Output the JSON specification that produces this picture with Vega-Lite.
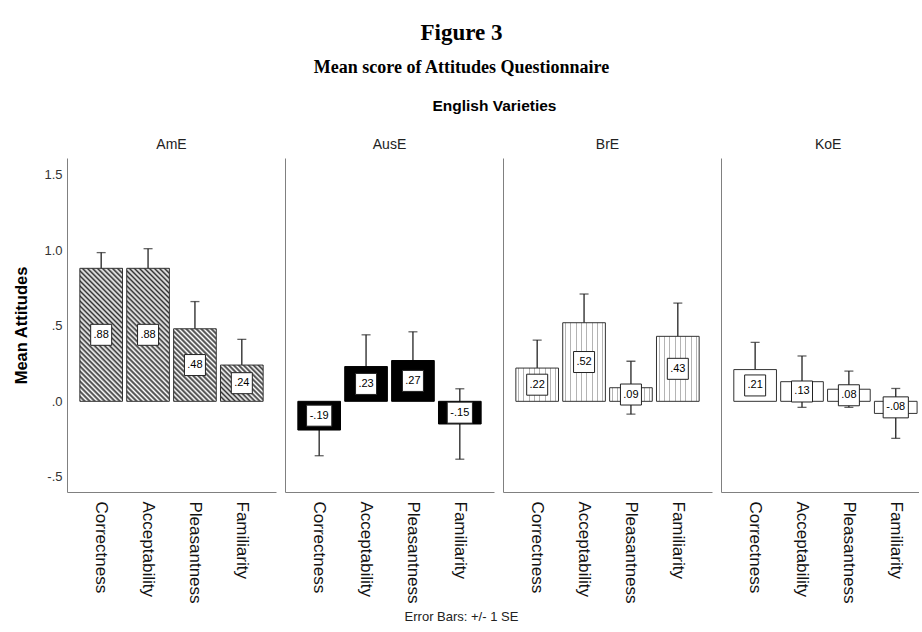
{
  "$schema": "https://vega.github.io/schema/vega-lite/v6.json",
  "padding": {"left": 13, "top": 21, "right": 0, "bottom": 0},
  "config": {"view": {"stroke": null}, "font": "Liberation Sans"},
  "data": {"values": [
    {"variety": "AmE", "measure": "Correctness", "mean": 0.88, "se": 0.104, "label": ".88"},
    {"variety": "AmE", "measure": "Acceptability", "mean": 0.88, "se": 0.13, "label": ".88"},
    {"variety": "AmE", "measure": "Pleasantness", "mean": 0.48, "se": 0.18, "label": ".48"},
    {"variety": "AmE", "measure": "Familiarity", "mean": 0.24, "se": 0.17, "label": ".24"},
    {"variety": "AusE", "measure": "Correctness", "mean": -0.19, "se": 0.17, "label": "-.19"},
    {"variety": "AusE", "measure": "Acceptability", "mean": 0.23, "se": 0.21, "label": ".23"},
    {"variety": "AusE", "measure": "Pleasantness", "mean": 0.27, "se": 0.19, "label": ".27"},
    {"variety": "AusE", "measure": "Familiarity", "mean": -0.15, "se": 0.233, "label": "-.15"},
    {"variety": "BrE", "measure": "Correctness", "mean": 0.22, "se": 0.185, "label": ".22"},
    {"variety": "BrE", "measure": "Acceptability", "mean": 0.52, "se": 0.19, "label": ".52"},
    {"variety": "BrE", "measure": "Pleasantness", "mean": 0.09, "se": 0.175, "label": ".09"},
    {"variety": "BrE", "measure": "Familiarity", "mean": 0.43, "se": 0.22, "label": ".43"},
    {"variety": "KoE", "measure": "Correctness", "mean": 0.21, "se": 0.18, "label": ".21"},
    {"variety": "KoE", "measure": "Acceptability", "mean": 0.13, "se": 0.17, "label": ".13"},
    {"variety": "KoE", "measure": "Pleasantness", "mean": 0.08, "se": 0.12, "label": ".08"},
    {"variety": "KoE", "measure": "Familiarity", "mean": -0.08, "se": 0.165, "label": "-.08"}
  ]},
  "title": {
    "text": "Figure 3", "subtitle": "Mean score of Attitudes Questionnaire",
    "font": "Liberation Serif", "fontSize": 23, "fontWeight": "bold", "color": "#000",
    "subtitleFont": "Liberation Serif", "subtitleFontSize": 18, "subtitleFontWeight": "bold", "subtitleColor": "#000",
    "subtitlePadding": 14, "anchor": "middle", "offset": 22, "dx": -5
  },
  "vconcat": [{
    "title": {"text": "English Varieties", "font": "Liberation Sans", "fontSize": 15.5, "fontWeight": "bold", "color": "#000", "anchor": "middle", "dx": 28, "offset": 24},
    "vconcat": [{
      "title": {"text": "Error Bars: +/- 1 SE", "orient": "bottom", "font": "Liberation Sans", "fontSize": 13, "fontWeight": "normal", "color": "#222", "anchor": "middle", "offset": 8, "dx": -5},
      "spacing": 9,
      "hconcat": [
        {
          "width": 209, "height": 334,
          "title": {"text": "AmE", "font": "Liberation Sans", "fontSize": 14, "fontWeight": "normal", "color": "#222", "frame": "group", "anchor": "middle", "offset": 6},
          "transform": [{"filter": "datum.variety === 'AmE'"}],
          "resolve": {"scale": {"y": "independent"}},
          "layer": [
            {"mark": {"type": "errorbar", "ticks": true, "size": 9, "thickness": 1.3, "color": "#222"},
             "encoding": {
               "x": {"field": "measure", "type": "nominal", "title": null, "sort": ["Correctness", "Acceptability", "Pleasantness", "Familiarity"], "scale": {"paddingInner": 0.09, "paddingOuter": 0.274}},
               "y": {"field": "mean", "type": "quantitative", "scale": {"domain": [-0.6, 1.61], "nice": false, "zero": false}, "axis": null},
               "yError": {"field": "se"}}},
            {"mark": {"type": "bar", "stroke": "#333", "strokeWidth": 1, "opacity": 1},
             "encoding": {
               "x": {"field": "measure", "type": "nominal", "title": null, "sort": ["Correctness", "Acceptability", "Pleasantness", "Familiarity"], "scale": {"paddingInner": 0.09, "paddingOuter": 0.274},
                     "axis": {"labelAngle": 90, "labelAlign": "left", "labelBaseline": "middle", "labelFontSize": 17, "labelColor": "#111", "ticks": false, "labelPadding": 9, "domainColor": "#808080"}},
               "y": {"field": "mean", "type": "quantitative", "title": "Mean Attitudes", "scale": {"domain": [-0.6, 1.61], "nice": false, "zero": false},
                     "axis": {"orient": "left", "titleFontSize": 16.5, "titleFontWeight": "bold", "titleColor": "#000", "titlePadding": 14, "labelFontSize": 13, "labelColor": "#333", "labelPadding": 5, "ticks": false, "domainColor": "#808080", "gridColor": "#cfcfcf", "values": [-0.5, 0, 0.5, 1, 1.5],
                              "labelExpr": "datum.value < 0 ? '-' + replace(format(-datum.value, '.1f'), '0.', '.') : replace(format(datum.value, '.1f'), '0.', '.')"}},
               "y2": {"datum": 0},
               "fill": {
                 "condition": [
                   {"test": "datum.mean > 0.7", "value": {"gradient": "linear", "x1": 0, "y1": 1, "x2": 0.3846, "y2": -0.198, "stops": [
                     {"offset": 0, "color": "#333"}, {"offset": 0.0143, "color": "#fff"}, {"offset": 0.0286, "color": "#333"}, {"offset": 0.0429, "color": "#fff"},
                     {"offset": 0.0571, "color": "#333"}, {"offset": 0.0714, "color": "#fff"}, {"offset": 0.0857, "color": "#333"}, {"offset": 0.1, "color": "#fff"},
                     {"offset": 0.1143, "color": "#333"}, {"offset": 0.1286, "color": "#fff"}, {"offset": 0.1429, "color": "#333"}, {"offset": 0.1571, "color": "#fff"},
                     {"offset": 0.1714, "color": "#333"}, {"offset": 0.1857, "color": "#fff"}, {"offset": 0.2, "color": "#333"}, {"offset": 0.2143, "color": "#fff"},
                     {"offset": 0.2286, "color": "#333"}, {"offset": 0.2429, "color": "#fff"}, {"offset": 0.2571, "color": "#333"}, {"offset": 0.2714, "color": "#fff"},
                     {"offset": 0.2857, "color": "#333"}, {"offset": 0.3, "color": "#fff"}, {"offset": 0.3143, "color": "#333"}, {"offset": 0.3286, "color": "#fff"},
                     {"offset": 0.3429, "color": "#333"}, {"offset": 0.3571, "color": "#fff"}, {"offset": 0.3714, "color": "#333"}, {"offset": 0.3857, "color": "#fff"},
                     {"offset": 0.4, "color": "#333"}, {"offset": 0.4143, "color": "#fff"}, {"offset": 0.4286, "color": "#333"}, {"offset": 0.4429, "color": "#fff"},
                     {"offset": 0.4571, "color": "#333"}, {"offset": 0.4714, "color": "#fff"}, {"offset": 0.4857, "color": "#333"}, {"offset": 0.5, "color": "#fff"},
                     {"offset": 0.5143, "color": "#333"}, {"offset": 0.5286, "color": "#fff"}, {"offset": 0.5429, "color": "#333"}, {"offset": 0.5571, "color": "#fff"},
                     {"offset": 0.5714, "color": "#333"}, {"offset": 0.5857, "color": "#fff"}, {"offset": 0.6, "color": "#333"}, {"offset": 0.6143, "color": "#fff"},
                     {"offset": 0.6286, "color": "#333"}, {"offset": 0.6429, "color": "#fff"}, {"offset": 0.6571, "color": "#333"}, {"offset": 0.6714, "color": "#fff"},
                     {"offset": 0.6857, "color": "#333"}, {"offset": 0.7, "color": "#fff"}, {"offset": 0.7143, "color": "#333"}, {"offset": 0.7286, "color": "#fff"},
                     {"offset": 0.7429, "color": "#333"}, {"offset": 0.7571, "color": "#fff"}, {"offset": 0.7714, "color": "#333"}, {"offset": 0.7857, "color": "#fff"},
                     {"offset": 0.8, "color": "#333"}, {"offset": 0.8143, "color": "#fff"}, {"offset": 0.8286, "color": "#333"}, {"offset": 0.8429, "color": "#fff"},
                     {"offset": 0.8571, "color": "#333"}, {"offset": 0.8714, "color": "#fff"}, {"offset": 0.8857, "color": "#333"}, {"offset": 0.9, "color": "#fff"},
                     {"offset": 0.9143, "color": "#333"}, {"offset": 0.9286, "color": "#fff"}, {"offset": 0.9429, "color": "#333"}, {"offset": 0.9571, "color": "#fff"},
                     {"offset": 0.9714, "color": "#333"}, {"offset": 0.9857, "color": "#fff"}, {"offset": 1, "color": "#333"}]}},
                   {"test": "datum.mean > 0.3", "value": {"gradient": "linear", "x1": 0, "y1": 1, "x2": 0.6941, "y2": -0.18, "stops": [
                     {"offset": 0, "color": "#333"}, {"offset": 0.0217, "color": "#fff"}, {"offset": 0.0435, "color": "#333"}, {"offset": 0.0652, "color": "#fff"},
                     {"offset": 0.087, "color": "#333"}, {"offset": 0.1087, "color": "#fff"}, {"offset": 0.1304, "color": "#333"}, {"offset": 0.1522, "color": "#fff"},
                     {"offset": 0.1739, "color": "#333"}, {"offset": 0.1957, "color": "#fff"}, {"offset": 0.2174, "color": "#333"}, {"offset": 0.2391, "color": "#fff"},
                     {"offset": 0.2609, "color": "#333"}, {"offset": 0.2826, "color": "#fff"}, {"offset": 0.3043, "color": "#333"}, {"offset": 0.3261, "color": "#fff"},
                     {"offset": 0.3478, "color": "#333"}, {"offset": 0.3696, "color": "#fff"}, {"offset": 0.3913, "color": "#333"}, {"offset": 0.413, "color": "#fff"},
                     {"offset": 0.4348, "color": "#333"}, {"offset": 0.4565, "color": "#fff"}, {"offset": 0.4783, "color": "#333"}, {"offset": 0.5, "color": "#fff"},
                     {"offset": 0.5217, "color": "#333"}, {"offset": 0.5435, "color": "#fff"}, {"offset": 0.5652, "color": "#333"}, {"offset": 0.587, "color": "#fff"},
                     {"offset": 0.6087, "color": "#333"}, {"offset": 0.6304, "color": "#fff"}, {"offset": 0.6522, "color": "#333"}, {"offset": 0.6739, "color": "#fff"},
                     {"offset": 0.6957, "color": "#333"}, {"offset": 0.7174, "color": "#fff"}, {"offset": 0.7391, "color": "#333"}, {"offset": 0.7609, "color": "#fff"},
                     {"offset": 0.7826, "color": "#333"}, {"offset": 0.8043, "color": "#fff"}, {"offset": 0.8261, "color": "#333"}, {"offset": 0.8478, "color": "#fff"},
                     {"offset": 0.8696, "color": "#333"}, {"offset": 0.8913, "color": "#fff"}, {"offset": 0.913, "color": "#333"}, {"offset": 0.9348, "color": "#fff"},
                     {"offset": 0.9565, "color": "#333"}, {"offset": 0.9783, "color": "#fff"}, {"offset": 1, "color": "#333"}]}}
                 ],
                 "value": {"gradient": "linear", "x1": 0, "y1": 1, "x2": 1.0739, "y2": 0.0869, "stops": [
                   {"offset": 0, "color": "#333"}, {"offset": 0.03125, "color": "#fff"}, {"offset": 0.0625, "color": "#333"}, {"offset": 0.09375, "color": "#fff"},
                   {"offset": 0.125, "color": "#333"}, {"offset": 0.15625, "color": "#fff"}, {"offset": 0.1875, "color": "#333"}, {"offset": 0.21875, "color": "#fff"},
                   {"offset": 0.25, "color": "#333"}, {"offset": 0.28125, "color": "#fff"}, {"offset": 0.3125, "color": "#333"}, {"offset": 0.34375, "color": "#fff"},
                   {"offset": 0.375, "color": "#333"}, {"offset": 0.40625, "color": "#fff"}, {"offset": 0.4375, "color": "#333"}, {"offset": 0.46875, "color": "#fff"},
                   {"offset": 0.5, "color": "#333"}, {"offset": 0.53125, "color": "#fff"}, {"offset": 0.5625, "color": "#333"}, {"offset": 0.59375, "color": "#fff"},
                   {"offset": 0.625, "color": "#333"}, {"offset": 0.65625, "color": "#fff"}, {"offset": 0.6875, "color": "#333"}, {"offset": 0.71875, "color": "#fff"},
                   {"offset": 0.75, "color": "#333"}, {"offset": 0.78125, "color": "#fff"}, {"offset": 0.8125, "color": "#333"}, {"offset": 0.84375, "color": "#fff"},
                   {"offset": 0.875, "color": "#333"}, {"offset": 0.90625, "color": "#fff"}, {"offset": 0.9375, "color": "#333"}, {"offset": 0.96875, "color": "#fff"},
                   {"offset": 1, "color": "#333"}]}
               }}},
            {"mark": {"type": "point", "shape": "square", "filled": true, "fill": "#fff", "stroke": "#222", "strokeWidth": 1, "opacity": 1, "size": 441},
             "encoding": {
               "x": {"field": "measure", "type": "nominal", "title": null, "sort": ["Correctness", "Acceptability", "Pleasantness", "Familiarity"], "scale": {"paddingInner": 0.09, "paddingOuter": 0.274}},
               "y": {"field": "mean", "type": "quantitative", "scale": {"domain": [-1.2, 3.22], "nice": false, "zero": false}, "axis": null},
               "shape": {"condition": {"test": "datum.mean < 0", "value": "M-1.2,-1L1.2,-1L1.2,1L-1.2,1Z"}, "value": "square"}}},
            {"mark": {"type": "text", "font": "Liberation Sans", "fontSize": 11, "color": "#000", "baseline": "middle", "align": "center"},
             "encoding": {
               "x": {"field": "measure", "type": "nominal", "title": null, "sort": ["Correctness", "Acceptability", "Pleasantness", "Familiarity"], "scale": {"paddingInner": 0.09, "paddingOuter": 0.274}},
               "y": {"field": "mean", "type": "quantitative", "scale": {"domain": [-1.2, 3.22], "nice": false, "zero": false}, "axis": null},
               "text": {"field": "label"}}}
          ]
        },
        {
          "width": 209, "height": 334,
          "title": {"text": "AusE", "font": "Liberation Sans", "fontSize": 14, "fontWeight": "normal", "color": "#222", "frame": "group", "anchor": "middle", "offset": 6},
          "transform": [{"filter": "datum.variety === 'AusE'"}],
          "resolve": {"scale": {"y": "independent"}},
          "layer": [
            {"mark": {"type": "errorbar", "ticks": true, "size": 9, "thickness": 1.3, "color": "#222"},
             "encoding": {
               "x": {"field": "measure", "type": "nominal", "title": null, "sort": ["Correctness", "Acceptability", "Pleasantness", "Familiarity"], "scale": {"paddingInner": 0.09, "paddingOuter": 0.274}},
               "y": {"field": "mean", "type": "quantitative", "scale": {"domain": [-0.6, 1.61], "nice": false, "zero": false}, "axis": null},
               "yError": {"field": "se"}}},
            {"mark": {"type": "bar", "fill": "#000", "stroke": "#000", "strokeWidth": 1, "opacity": 1},
             "encoding": {
               "x": {"field": "measure", "type": "nominal", "title": null, "sort": ["Correctness", "Acceptability", "Pleasantness", "Familiarity"], "scale": {"paddingInner": 0.09, "paddingOuter": 0.274},
                     "axis": {"labelAngle": 90, "labelAlign": "left", "labelBaseline": "middle", "labelFontSize": 17, "labelColor": "#111", "ticks": false, "labelPadding": 9, "domainColor": "#808080"}},
               "y": {"field": "mean", "type": "quantitative", "title": null, "scale": {"domain": [-0.6, 1.61], "nice": false, "zero": false},
                     "axis": {"orient": "left", "labels": false, "ticks": false, "domainColor": "#808080", "gridColor": "#cfcfcf", "values": [-0.5, 0, 0.5, 1, 1.5]}},
               "y2": {"datum": 0}}},
            {"mark": {"type": "point", "shape": "square", "filled": true, "fill": "#fff", "stroke": "#222", "strokeWidth": 1, "opacity": 1, "size": 441},
             "encoding": {
               "x": {"field": "measure", "type": "nominal", "title": null, "sort": ["Correctness", "Acceptability", "Pleasantness", "Familiarity"], "scale": {"paddingInner": 0.09, "paddingOuter": 0.274}},
               "y": {"field": "mean", "type": "quantitative", "scale": {"domain": [-1.2, 3.22], "nice": false, "zero": false}, "axis": null},
               "shape": {"condition": {"test": "datum.mean < 0", "value": "M-1.2,-1L1.2,-1L1.2,1L-1.2,1Z"}, "value": "square"}}},
            {"mark": {"type": "text", "font": "Liberation Sans", "fontSize": 11, "color": "#000", "baseline": "middle", "align": "center"},
             "encoding": {
               "x": {"field": "measure", "type": "nominal", "title": null, "sort": ["Correctness", "Acceptability", "Pleasantness", "Familiarity"], "scale": {"paddingInner": 0.09, "paddingOuter": 0.274}},
               "y": {"field": "mean", "type": "quantitative", "scale": {"domain": [-1.2, 3.22], "nice": false, "zero": false}, "axis": null},
               "text": {"field": "label"}}}
          ]
        },
        {
          "width": 209, "height": 334,
          "title": {"text": "BrE", "font": "Liberation Sans", "fontSize": 14, "fontWeight": "normal", "color": "#222", "frame": "group", "anchor": "middle", "offset": 6},
          "transform": [{"filter": "datum.variety === 'BrE'"}],
          "resolve": {"scale": {"y": "independent"}},
          "layer": [
            {"mark": {"type": "errorbar", "ticks": true, "size": 9, "thickness": 1.3, "color": "#222"},
             "encoding": {
               "x": {"field": "measure", "type": "nominal", "title": null, "sort": ["Correctness", "Acceptability", "Pleasantness", "Familiarity"], "scale": {"paddingInner": 0.09, "paddingOuter": 0.274}},
               "y": {"field": "mean", "type": "quantitative", "scale": {"domain": [-0.6, 1.61], "nice": false, "zero": false}, "axis": null},
               "yError": {"field": "se"}}},
            {"mark": {"type": "bar", "stroke": "#333", "strokeWidth": 1, "opacity": 1,
                      "fill": {"gradient": "linear", "x1": 0, "y1": 0, "x2": 1, "y2": 0, "stops": [
                        {"offset": 0, "color": "#fff"},
                        {"offset": 0.0505, "color": "#fff"}, {"offset": 0.0505, "color": "#b4b4b4"}, {"offset": 0.0745, "color": "#b4b4b4"}, {"offset": 0.0745, "color": "#fff"},
                        {"offset": 0.1755, "color": "#fff"}, {"offset": 0.1755, "color": "#b4b4b4"}, {"offset": 0.1995, "color": "#b4b4b4"}, {"offset": 0.1995, "color": "#fff"},
                        {"offset": 0.3005, "color": "#fff"}, {"offset": 0.3005, "color": "#b4b4b4"}, {"offset": 0.3245, "color": "#b4b4b4"}, {"offset": 0.3245, "color": "#fff"},
                        {"offset": 0.4255, "color": "#fff"}, {"offset": 0.4255, "color": "#b4b4b4"}, {"offset": 0.4495, "color": "#b4b4b4"}, {"offset": 0.4495, "color": "#fff"},
                        {"offset": 0.5505, "color": "#fff"}, {"offset": 0.5505, "color": "#b4b4b4"}, {"offset": 0.5745, "color": "#b4b4b4"}, {"offset": 0.5745, "color": "#fff"},
                        {"offset": 0.6755, "color": "#fff"}, {"offset": 0.6755, "color": "#b4b4b4"}, {"offset": 0.6995, "color": "#b4b4b4"}, {"offset": 0.6995, "color": "#fff"},
                        {"offset": 0.8005, "color": "#fff"}, {"offset": 0.8005, "color": "#b4b4b4"}, {"offset": 0.8245, "color": "#b4b4b4"}, {"offset": 0.8245, "color": "#fff"},
                        {"offset": 0.9255, "color": "#fff"}, {"offset": 0.9255, "color": "#b4b4b4"}, {"offset": 0.9495, "color": "#b4b4b4"}, {"offset": 0.9495, "color": "#fff"},
                        {"offset": 1, "color": "#fff"}]}},
             "encoding": {
               "x": {"field": "measure", "type": "nominal", "title": null, "sort": ["Correctness", "Acceptability", "Pleasantness", "Familiarity"], "scale": {"paddingInner": 0.09, "paddingOuter": 0.274},
                     "axis": {"labelAngle": 90, "labelAlign": "left", "labelBaseline": "middle", "labelFontSize": 17, "labelColor": "#111", "ticks": false, "labelPadding": 9, "domainColor": "#808080"}},
               "y": {"field": "mean", "type": "quantitative", "title": null, "scale": {"domain": [-0.6, 1.61], "nice": false, "zero": false},
                     "axis": {"orient": "left", "labels": false, "ticks": false, "domainColor": "#808080", "gridColor": "#cfcfcf", "values": [-0.5, 0, 0.5, 1, 1.5]}},
               "y2": {"datum": 0}}},
            {"mark": {"type": "point", "shape": "square", "filled": true, "fill": "#fff", "stroke": "#222", "strokeWidth": 1, "opacity": 1, "size": 441},
             "encoding": {
               "x": {"field": "measure", "type": "nominal", "title": null, "sort": ["Correctness", "Acceptability", "Pleasantness", "Familiarity"], "scale": {"paddingInner": 0.09, "paddingOuter": 0.274}},
               "y": {"field": "mean", "type": "quantitative", "scale": {"domain": [-1.2, 3.22], "nice": false, "zero": false}, "axis": null},
               "shape": {"condition": {"test": "datum.mean < 0", "value": "M-1.2,-1L1.2,-1L1.2,1L-1.2,1Z"}, "value": "square"}}},
            {"mark": {"type": "text", "font": "Liberation Sans", "fontSize": 11, "color": "#000", "baseline": "middle", "align": "center"},
             "encoding": {
               "x": {"field": "measure", "type": "nominal", "title": null, "sort": ["Correctness", "Acceptability", "Pleasantness", "Familiarity"], "scale": {"paddingInner": 0.09, "paddingOuter": 0.274}},
               "y": {"field": "mean", "type": "quantitative", "scale": {"domain": [-1.2, 3.22], "nice": false, "zero": false}, "axis": null},
               "text": {"field": "label"}}}
          ]
        },
        {
          "width": 198, "height": 334,
          "title": {"text": "KoE", "font": "Liberation Sans", "fontSize": 14, "fontWeight": "normal", "color": "#222", "frame": "group", "anchor": "start", "dx": 94, "offset": 6},
          "transform": [{"filter": "datum.variety === 'KoE'"}],
          "resolve": {"scale": {"y": "independent"}},
          "layer": [
            {"mark": {"type": "errorbar", "ticks": true, "size": 9, "thickness": 1.3, "color": "#222"},
             "encoding": {
               "x": {"field": "measure", "type": "nominal", "title": null, "sort": ["Correctness", "Acceptability", "Pleasantness", "Familiarity"], "scale": {"paddingInner": 0.09, "paddingOuter": 0.157, "align": 0.87}},
               "y": {"field": "mean", "type": "quantitative", "scale": {"domain": [-0.6, 1.61], "nice": false, "zero": false}, "axis": null},
               "yError": {"field": "se"}}},
            {"mark": {"type": "bar", "fill": "#fff", "stroke": "#333", "strokeWidth": 1, "opacity": 1},
             "encoding": {
               "x": {"field": "measure", "type": "nominal", "title": null, "sort": ["Correctness", "Acceptability", "Pleasantness", "Familiarity"], "scale": {"paddingInner": 0.09, "paddingOuter": 0.157, "align": 0.87},
                     "axis": {"labelAngle": 90, "labelAlign": "left", "labelBaseline": "middle", "labelFontSize": 17, "labelColor": "#111", "ticks": false, "labelPadding": 9, "domainColor": "#808080"}},
               "y": {"field": "mean", "type": "quantitative", "title": null, "scale": {"domain": [-0.6, 1.61], "nice": false, "zero": false},
                     "axis": {"orient": "left", "labels": false, "ticks": false, "domainColor": "#808080", "gridColor": "#cfcfcf", "values": [-0.5, 0, 0.5, 1, 1.5]}},
               "y2": {"datum": 0}}},
            {"mark": {"type": "point", "shape": "square", "filled": true, "fill": "#fff", "stroke": "#222", "strokeWidth": 1, "opacity": 1, "size": 441},
             "encoding": {
               "x": {"field": "measure", "type": "nominal", "title": null, "sort": ["Correctness", "Acceptability", "Pleasantness", "Familiarity"], "scale": {"paddingInner": 0.09, "paddingOuter": 0.157, "align": 0.87}},
               "y": {"field": "mean", "type": "quantitative", "scale": {"domain": [-1.2, 3.22], "nice": false, "zero": false}, "axis": null},
               "shape": {"condition": {"test": "datum.mean < 0", "value": "M-1.2,-1L1.2,-1L1.2,1L-1.2,1Z"}, "value": "square"}}},
            {"mark": {"type": "text", "font": "Liberation Sans", "fontSize": 11, "color": "#000", "baseline": "middle", "align": "center"},
             "encoding": {
               "x": {"field": "measure", "type": "nominal", "title": null, "sort": ["Correctness", "Acceptability", "Pleasantness", "Familiarity"], "scale": {"paddingInner": 0.09, "paddingOuter": 0.157, "align": 0.87}},
               "y": {"field": "mean", "type": "quantitative", "scale": {"domain": [-1.2, 3.22], "nice": false, "zero": false}, "axis": null},
               "text": {"field": "label"}}}
          ]
        }
      ]
    }]
  }]
}
